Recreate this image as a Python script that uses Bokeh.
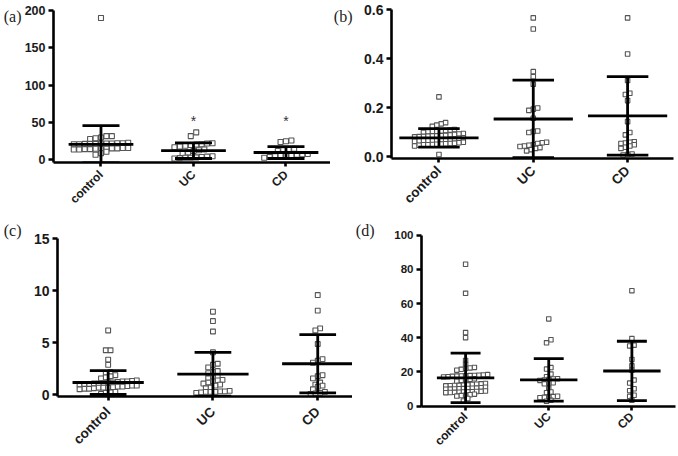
import numpy as np
from bokeh.plotting import figure
from bokeh.layouts import column, row
from bokeh.models import FixedTicker, NumeralTickFormatter, Range1d, ColumnDataSource, LinearAxis
from bokeh.core.properties import value
from bokeh.embed import file_html
from bokeh.resources import INLINE

groups = ["control", "UC", "CD"]

# ---- panel (a) ----
a_control = [190, 32, 32, 30, 29, 28,
             23, 22.5, 22.5, 22, 22, 22, 21.5, 21.5, 21.5, 21, 21,
             16, 16, 15.5, 15.5, 15, 15, 15, 14.5, 14.5, 14, 14,
             11, 9, 7]
a_uc = [37, 32,
        22.5, 22, 21, 20.5, 20, 19, 18, 17,
        14, 13, 12, 10, 9,
        5, 4.5, 4, 3.5, 3, 3, 2.5, 2]
a_cd = [26, 25, 24,
        15, 14, 13, 12,
        8, 7.5, 7, 6.5, 6, 5.5, 5, 4, 3]
a_mean = [21, 12.5, 10]
a_sd = [25, 10.5, 8]
a_star_groups = [1, 2]
a_star_y = [52, 52]
a_ticks = [0, 50, 100, 150, 200]

# ---- panel (b) ----
b_control = [0.245, 0.14, 0.135, 0.13, 0.125,
             0.112, 0.11, 0.108, 0.106, 0.105, 0.104, 0.102, 0.1,
             0.096, 0.094, 0.092, 0.09, 0.088, 0.087, 0.086, 0.086, 0.085, 0.084, 0.083, 0.082,
             0.078, 0.076, 0.074, 0.072, 0.071, 0.07, 0.068, 0.068, 0.067, 0.066, 0.065, 0.064,
             0.06, 0.058, 0.056, 0.055, 0.054, 0.053, 0.052, 0.051, 0.05, 0.05, 0.048, 0.045,
             0.01]
b_uc = [0.567, 0.522, 0.348, 0.327, 0.297, 0.2, 0.195, 0.19, 0.158, 0.106, 0.104, 0.1,
        0.06, 0.058, 0.055, 0.05, 0.048, 0.045, 0.043,
        0.038, 0.035, 0.03, 0.025]
b_cd = [0.567, 0.42, 0.312, 0.26, 0.255, 0.23, 0.144, 0.1, 0.09,
        0.062, 0.06, 0.057, 0.055, 0.05, 0.045, 0.04, 0.035, 0.012, 0.01, 0.008]
b_mean = [0.078, 0.155, 0.168]
b_sd = [0.038, 0.158, 0.16]
b_ticks = [0.0, 0.2, 0.4, 0.6]

# ---- panel (c) ----
c_control = [6.2, 4.3, 4.3, 3.4, 2.9, 2.2, 2.1, 1.9, 1.8, 1.7, 1.6,
             1.4, 1.35, 1.3, 1.3, 1.25, 1.2, 1.2, 1.15, 1.1, 1.1, 1.05, 1.0, 1.0,
             0.9, 0.9, 0.85, 0.8, 0.8, 0.75, 0.7, 0.7, 0.7, 0.65, 0.6, 0.6, 0.55,
             0.3, 0.25, 0.2, 0.1]
c_uc = [8.0, 7.1, 6.1, 4.1, 3.0, 2.9, 2.65, 2.3, 2.2, 2.1, 1.8, 1.7, 1.6,
        1.45, 1.4, 1.3, 1.2, 1.1, 1.0, 0.9, 0.7, 0.65,
        0.4, 0.35, 0.35, 0.3, 0.3, 0.3, 0.25, 0.2]
c_cd = [9.6, 8.1, 6.4, 6.2, 4.9, 3.45, 3.3, 3.1, 1.9, 1.8, 1.6, 1.2, 1.0, 0.9, 0.8, 0.55,
        0.3, 0.2, 0.15, 0.1]
c_mean = [1.2, 2.0, 3.0]
c_sd = [1.15, 2.1, 2.8]
c_ticks = [0, 5, 10, 15]

# ---- panel (d) ----
d_control = [83, 66, 43, 40, 26.7, 24.4,
             22.6, 22.3, 22, 21.5, 21,
             18.4, 18.2, 18.0, 17.9, 17.8, 17.7, 17.6, 17.5, 17.4, 17.2, 17.0,
             15.9, 15.6, 15.3, 15.0, 14.5,
             13.2, 13.0, 12.8, 12.6, 12.4, 12.2, 12.1, 12.0, 11.9, 11.8,
             11.0, 10.7, 10.5, 10.4, 10.3, 10.2, 10.1, 10.0, 9.9, 9.8,
             8.8, 8.6, 8.5, 8.4, 8.3, 8.2, 8.1, 8.0, 7.9, 7.8,
             6.9, 6.6, 6.3, 6.1, 5.8, 4.4, 3]
d_uc = [51, 38.8, 37, 22.5, 21.6, 18.7, 17.2, 16.0, 15.8, 15.5, 15.3, 15.0, 13.6, 13.4, 13.0,
        10.5, 8.2, 7.8, 5.7, 5.5, 5.3, 5.1, 4.9, 3.3, 2.8]
d_cd = [67.5, 39.5, 35.6, 35.2, 27.3, 23.5, 21, 15.2, 13.4, 10.1, 9.0, 6.3, 5.6, 3.4]
d_mean = [16.5, 15.3, 20.5]
d_sd = [14.5, 12.4, 17.4]
d_ticks = [0, 20, 40, 60, 80, 100]


def row_offsets(vals, px_y, h, d):
    """GraphPad-like scatter: values closer than h pixels share a row, spread by d pixels."""
    vals = np.asarray(vals, float)
    order = np.argsort(vals, kind="stable")
    offs = np.zeros(len(vals))
    grp = []
    start = None

    def flush(g):
        n = len(g)
        for j, idx in enumerate(g):
            offs[idx] = (j - (n - 1) / 2.0) * d

    for idx in order:
        y = vals[idx] * px_y
        if start is None or y - start >= h:
            if grp:
                flush(grp)
            grp = [idx]
            start = y
        else:
            grp.append(idx)
    if grp:
        flush(grp)
    return offs


def panel(tag, data, means, sds, ticks, fmt, W, H, bl, br, ty_top, ty_zero, z_px,
          cat0, spacing, ylab_fs, xlab_fs, xlab_standoff, mean_hw, cap_hw, tag_cy,
          tag_standoff, mark, h, d, stars=None):
    bt = 2
    top = ticks[-1]
    px_y = (ty_zero - ty_top) / top
    y0 = -z_px / px_y
    y1 = top + (ty_top - bt) / px_y
    bb = int(round(H - (ty_zero + z_px)))
    fw = W - bl - br
    px_x = spacing
    x0 = -cat0 / px_x
    x1 = x0 + fw / px_x

    p = figure(width=W, height=H, x_range=Range1d(x0, x1), y_range=Range1d(y0, y1),
               output_backend="svg", toolbar_location=None,
               min_border_left=bl, min_border_right=br, min_border_top=bt, min_border_bottom=bb)
    p.outline_line_color = None
    p.xgrid.visible = False
    p.ygrid.visible = False

    for gi, vals in enumerate(data):
        offs = row_offsets(vals, px_y, h, d)
        src = ColumnDataSource(dict(x=gi + offs / px_x, y=list(vals)))
        p.scatter("x", "y", source=src, marker="square", size=mark,
                  fill_color="white", line_color="#555555", line_width=1.1)

    gx = np.arange(len(means), dtype=float)
    m = np.asarray(means, float)
    s = np.asarray(sds, float)
    lw = 2.8
    p.segment(x0=gx - mean_hw, x1=gx + mean_hw, y0=m, y1=m, line_color="black", line_width=lw)
    p.segment(x0=gx, x1=gx, y0=m - s, y1=m + s, line_color="black", line_width=lw)
    p.segment(x0=gx - cap_hw, x1=gx + cap_hw, y0=m + s, y1=m + s, line_color="black", line_width=lw)
    p.segment(x0=gx - cap_hw, x1=gx + cap_hw, y0=m - s, y1=m - s, line_color="black", line_width=lw)

    if stars is not None:
        sg, sy = stars
        p.text(x=sg, y=sy, text=["*"] * len(sg), text_align="center", text_baseline="middle",
               text_font=value("Liberation Sans"), text_font_size="14px", text_color="#333333")

    for ax in (p.xaxis[0], p.yaxis[0]):
        ax.axis_line_width = 2.6
        ax.axis_line_color = "black"
        ax.major_tick_line_width = 2.6
        ax.major_tick_line_color = "black"
        ax.minor_tick_line_color = None
        ax.major_tick_in = 0
        ax.major_label_text_font = "Liberation Sans"
        ax.major_label_text_font_style = "bold"
        ax.major_label_text_color = "#1a1a1a"
    p.yaxis.ticker = FixedTicker(ticks=ticks)
    p.yaxis.bounds = (y0, top)
    p.yaxis.major_tick_out = 5
    p.yaxis.major_label_standoff = 3
    p.yaxis.major_label_text_font_size = ylab_fs
    if fmt:
        p.yaxis.formatter = NumeralTickFormatter(format=fmt)
    p.xaxis.ticker = FixedTicker(ticks=list(range(len(groups))))
    p.xaxis.major_label_overrides = {i: g for i, g in enumerate(groups)}
    p.xaxis.major_label_orientation = np.pi / 4
    p.xaxis.major_tick_out = 4
    p.xaxis.major_label_standoff = xlab_standoff
    p.xaxis.major_label_text_font_size = xlab_fs

    # panel tag, drawn as the single label of an extra (invisible) left axis
    tv = top + (ty_top - tag_cy) / px_y
    tag_axis = LinearAxis(ticker=FixedTicker(ticks=[tv]), major_label_overrides={tv: tag},
                          axis_line_color=None, major_tick_line_color=None,
                          minor_tick_line_color=None, major_tick_out=0, major_tick_in=0,
                          major_label_standoff=tag_standoff,
                          major_label_text_font="Liberation Serif",
                          major_label_text_font_size="16px",
                          major_label_text_color="#222222")
    p.add_layout(tag_axis, "left")
    return p


pa = panel("(a)", [a_control, a_uc, a_cd], a_mean, a_sd, a_ticks, None,
           W=330, H=218, bl=50, br=0, ty_top=10, ty_zero=159, z_px=2.5,
           cat0=48, spacing=93.5, ylab_fs="12.5px", xlab_fs="12px", xlab_standoff=6,
           mean_hw=0.35, cap_hw=0.2,
           tag_cy=16, tag_standoff=0, mark=5, h=5.0, d=5.5, stars=(a_star_groups, a_star_y))
pb = panel("(b)", [b_control, b_uc, b_cd], b_mean, b_sd, b_ticks, "0.0",
           W=348, H=218, bl=50, br=5, ty_top=9.3, ty_zero=156, z_px=1.5,
           cat0=49.3, spacing=98, ylab_fs="14px", xlab_fs="13.5px", xlab_standoff=6,
           mean_hw=0.42, cap_hw=0.22,
           tag_cy=15.5, tag_standoff=9, mark=4.5, h=4.3, d=4.6)
pc = panel("(c)", [c_control, c_uc, c_cd], c_mean, c_sd, c_ticks, None,
           W=352, H=238, bl=55, br=0, ty_top=20.3, ty_zero=176.3, z_px=1.5,
           cat0=51, spacing=105.5, ylab_fs="14px", xlab_fs="13.5px", xlab_standoff=9,
           mean_hw=0.34, cap_hw=0.175,
           tag_cy=12, tag_standoff=9, mark=4.8, h=4.3, d=4.8)
pd_ = panel("(d)", [d_control, d_uc, d_cd], d_mean, d_sd, d_ticks, None,
            W=326, H=238, bl=58, br=3, ty_top=17, ty_zero=191.3, z_px=0.5,
            cat0=46, spacing=86.75, ylab_fs="11.5px", xlab_fs="12px", xlab_standoff=4,
            mean_hw=0.345, cap_hw=0.18,
            tag_cy=12, tag_standoff=17, mark=4.4, h=3.3, d=4.6)

layout = column(row(column(pa), column(pb)), row(column(pc), column(pd_)))
open("out.html", "w").write(file_html(layout, INLINE))
